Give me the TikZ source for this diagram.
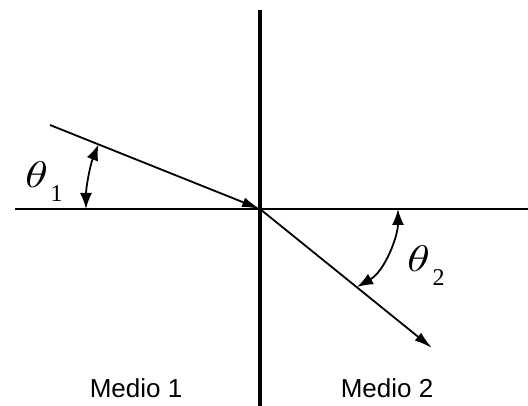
\documentclass[tikz,border=0pt]{standalone}
\usepackage{amsmath}
\usepackage{fontspec}
\usepackage{unicode-math}
\usepackage{tikz}
\usetikzlibrary{arrows.meta, calc}
\newfontfamily\mediofont{Liberation Sans}
\newfontfamily\subfont{Liberation Serif}
\newcommand{\angname}[1]{\scalebox{1.25}[1]{$\theta$}\hspace{3pt}\raisebox{-14pt}{\subfont\fontsize{24}{24}\selectfont #1}}

\begin{document}
\begin{tikzpicture}[x=1pt, y=1pt,
  axis/.style={draw=black, line width=2pt},
  ray/.style={draw=black, line width=1.8pt, -{Latex[length=18pt, width=10pt]}},
  angarc/.style={draw=black, line width=1.8pt, {Latex[length=16pt, width=12pt]}-{Latex[length=16pt, width=12pt]}},
  anglabel/.style={anchor=base west, inner sep=0pt, font=\fontsize{37}{39}\selectfont},
  mediolabel/.style={anchor=base, inner sep=0pt, font=\mediofont\fontsize{26}{28}\selectfont}]
\useasboundingbox (0,0) rectangle (528,406);
% axes
\coordinate (O) at (260,197);
\coordinate (top) at (260,396);
\coordinate (bottom) at (260,0);
\coordinate (left) at (15,197);
\coordinate (right) at (528,197);
\draw[axis, line width=3.5pt] (top) -- (bottom);
\draw[axis] (left) -- (right);

% rays
\coordinate (src) at (50,281);
\coordinate (dst) at (432,58);
\draw[ray] (src) -- (O);
\draw[ray] (O) -- (dst);

% angles
\coordinate (a1) at (86,197);
\draw[angarc] (a1) arc[start angle=180, end angle=158.2, radius=174];
\coordinate (a2s) at (357,119);
\coordinate (a2e) at (398,197);
\draw[angarc] (a2s) .. controls (385,135) and (398,170) .. (a2e);
\node[anglabel] (t1) at (25,218) {\angname{1}};
\node[anglabel] (t2) at (407,134) {\angname{2}};

% media
\node[mediolabel] (m1) at (136,8) {Medio 1};
\node[mediolabel] (m2) at (387,8) {Medio 2};
\end{tikzpicture}
\end{document}
